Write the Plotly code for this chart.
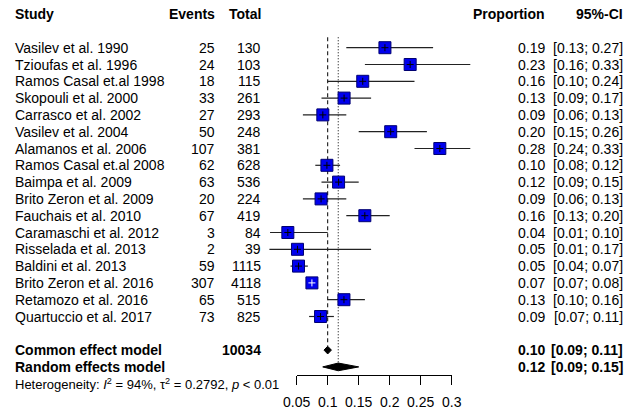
import plotly.graph_objects as go

# ---------------- data ----------------
studies = ["Vasilev et al. 1990", "Tzioufas et al. 1996", "Ramos Casal et.al 1998",
           "Skopouli et al. 2000", "Carrasco et al. 2002", "Vasilev et al. 2004",
           "Alamanos et al. 2006", "Ramos Casal et.al 2008", "Baimpa et al. 2009",
           "Brito Zeron et al. 2009", "Fauchais et al. 2010", "Caramaschi et al. 2012",
           "Risselada et al. 2013", "Baldini et al. 2013", "Brito Zeron et al. 2016",
           "Retamozo et al. 2016", "Quartuccio et al. 2017"]
events = [25, 24, 18, 33, 27, 50, 107, 62, 63, 20, 67, 3, 2, 59, 307, 65, 73]
totals = [130, 103, 115, 261, 293, 248, 381, 628, 536, 224, 419, 84, 39, 1115, 4118, 515, 825]
ci_lower = [0.13, 0.16, 0.10, 0.09, 0.06, 0.15, 0.24, 0.08, 0.09, 0.06, 0.13, 0.007, 0.006, 0.04, 0.067, 0.10, 0.07]
ci_upper = [0.27, 0.33, 0.24, 0.17, 0.13, 0.26, 0.33, 0.12, 0.15, 0.13, 0.20, 0.10, 0.17, 0.068, 0.083, 0.16, 0.11]

common_est, common_lo, common_hi = 0.100, 0.094, 0.106
random_est, random_lo, random_hi = 0.117, 0.092, 0.150
total_n = 10034
het_i2 = 94
het_tau2 = 0.2792
het_p = "&lt; 0.01"

tick_vals = [0.05, 0.10, 0.15, 0.20, 0.25, 0.30]
tick_text = ["0.05", "0.1", "0.15", "0.2", "0.25", "0.3"]

# ---------------- layout constants ----------------
W, H = 635, 410
PX_PER_UNIT = 620.0      # pixels per proportion unit
X_REF_PX = 296.7         # pixel position of 0.05
ROW0_PX, ROW_H = 47.7, 16.8
FONT = "Liberation Sans, Arial, sans-serif"
FS = 14

x_min = 0.05 - X_REF_PX / PX_PER_UNIT
x_max = 0.05 + (W - X_REF_PX) / PX_PER_UNIT
y_top = -ROW0_PX / ROW_H
y_bot = (H - ROW0_PX) / ROW_H

HEADER_ROW = -2
COMMON_ROW = len(studies) + 1
RANDOM_ROW = len(studies) + 2
HET_ROW = len(studies) + 3

rows = list(range(len(studies)))
props = [e / t for e, t in zip(events, totals)]

fig = go.Figure()

# reference lines
fig.add_trace(go.Scatter(x=[common_est, common_est], y=[-0.62, COMMON_ROW - 0.25],
                         mode="lines", line=dict(color="black", width=1, dash="4px,3px"),
                         hoverinfo="skip", showlegend=False))
fig.add_trace(go.Scatter(x=[random_est, random_est], y=[-0.62, RANDOM_ROW - 0.25],
                         mode="lines", line=dict(color="black", width=1, dash="1px,2px"),
                         hoverinfo="skip", showlegend=False))

# CI lines
cx, cy = [], []
for lo, hi, r in zip(ci_lower, ci_upper, rows):
    cx += [lo, hi, None]
    cy += [r, r, None]
fig.add_trace(go.Scatter(x=cx, y=cy, mode="lines", line=dict(color="#222222", width=1.2),
                         hoverinfo="skip", showlegend=False))

# squares
fig.add_trace(go.Scatter(x=props, y=rows, mode="markers",
                         marker=dict(symbol="square", size=12, color="#0000EE",
                                     line=dict(color="#000070", width=1)),
                         hoverinfo="skip", showlegend=False))

# centre crosses (white when the CI fits inside the square)
cross_col = ["white" if (hi - lo) * PX_PER_UNIT < 13 else "black"
             for lo, hi in zip(ci_lower, ci_upper)]
fig.add_trace(go.Scatter(x=props, y=rows, mode="markers",
                         marker=dict(symbol="cross-thin", size=5,
                                     line=dict(color=cross_col, width=1)),
                         hoverinfo="skip", showlegend=False))

# diamonds
for est, lo, hi, r in [(common_est, common_lo, common_hi, COMMON_ROW),
                       (random_est, random_lo, random_hi, RANDOM_ROW)]:
    fig.add_trace(go.Scatter(x=[lo, est, hi, est, lo], y=[r, r - 0.23, r, r + 0.23, r],
                             mode="lines", fill="toself", fillcolor="black",
                             line=dict(color="black", width=1),
                             hoverinfo="skip", showlegend=False))

# invisible trace for the tick axis subplot
fig.add_trace(go.Scatter(x=[0.05, 0.3], y=[0, 0], xaxis="x2", yaxis="y2",
                         mode="markers", marker=dict(opacity=0),
                         hoverinfo="skip", showlegend=False))

# ---------------- text ----------------
ann = []
def add_text(px, row, text, anchor="left", bold=False, size=FS):
    if bold:
        text = "<b>" + text + "</b>"
    ann.append(dict(x=px / W, xref="paper", y=row, yref="y", text=text,
                    xanchor=anchor, yanchor="middle", showarrow=False,
                    font=dict(family=FONT, size=size, color="black")))

COL_STUDY, COL_EVENTS, COL_TOTAL, COL_PROP, COL_CI = 13, 216.5, 262.5, 546.5, 624.5

add_text(COL_STUDY, HEADER_ROW, "Study", bold=True)
add_text(COL_EVENTS, HEADER_ROW, "Events", "right", bold=True)
add_text(COL_TOTAL, HEADER_ROW, "Total", "right", bold=True)
add_text(COL_PROP, HEADER_ROW, "Proportion", "right", bold=True)
add_text(COL_CI, HEADER_ROW, "95%-CI", "right", bold=True)

for s, e, t, p, lo, hi, r in zip(studies, events, totals, props, ci_lower, ci_upper, rows):
    add_text(COL_STUDY, r, s)
    add_text(COL_EVENTS, r, str(e), "right")
    add_text(COL_TOTAL, r, str(t), "right")
    add_text(COL_PROP, r, f"{p:.2f}", "right")
    add_text(COL_CI, r, f"[{lo:.2f}; {hi:.2f}]", "right")

add_text(COL_STUDY, COMMON_ROW, "Common effect model", bold=True)
add_text(COL_TOTAL, COMMON_ROW, str(total_n), "right", bold=True)
add_text(COL_PROP, COMMON_ROW, f"{common_est:.2f}", "right", bold=True)
add_text(COL_CI, COMMON_ROW, f"[{common_lo:.2f}; {common_hi:.2f}]", "right", bold=True)

add_text(COL_STUDY, RANDOM_ROW, "Random effects model", bold=True)
add_text(COL_PROP, RANDOM_ROW, f"{random_est:.2f}", "right", bold=True)
add_text(COL_CI, RANDOM_ROW, f"[{random_lo:.2f}; {random_hi:.2f}]", "right", bold=True)

add_text(COL_STUDY, HET_ROW,
         f"Heterogeneity: <i>I</i><sup>2</sup> = {het_i2}%, τ<sup>2</sup> = {het_tau2}, <i>p</i> {het_p}",
         size=13)

axis_y_px = 374.5
fig.update_layout(
    width=W, height=H,
    margin=dict(l=0, r=0, t=0, b=0, pad=0, autoexpand=False),
    paper_bgcolor="white", plot_bgcolor="rgba(0,0,0,0)",
    xaxis=dict(domain=[0, 1], range=[x_min, x_max], visible=False),
    yaxis=dict(domain=[0, 1], range=[y_bot, y_top], visible=False),
    xaxis2=dict(domain=[X_REF_PX / W, (X_REF_PX + 0.25 * PX_PER_UNIT) / W],
                range=[0.05, 0.3], anchor="y2", showline=True, linecolor="black",
                linewidth=1, ticks="outside", ticklen=9, tickwidth=1, tickcolor="black",
                tickvals=tick_vals, ticktext=tick_text, showgrid=False, zeroline=False,
                ticklabelstandoff=6,
                tickfont=dict(family=FONT, size=FS, color="black")),
    yaxis2=dict(domain=[1 - axis_y_px / H, 1 - axis_y_px / H + 0.01], anchor="x2",
                visible=False),
    annotations=ann,
    showlegend=False,
    hovermode=False,
)

fig.write_html("out.html",
               config={"displayModeBar": False, "staticPlot": True},
               post_script="document.body.style.margin='0';document.body.style.overflow='hidden';")
